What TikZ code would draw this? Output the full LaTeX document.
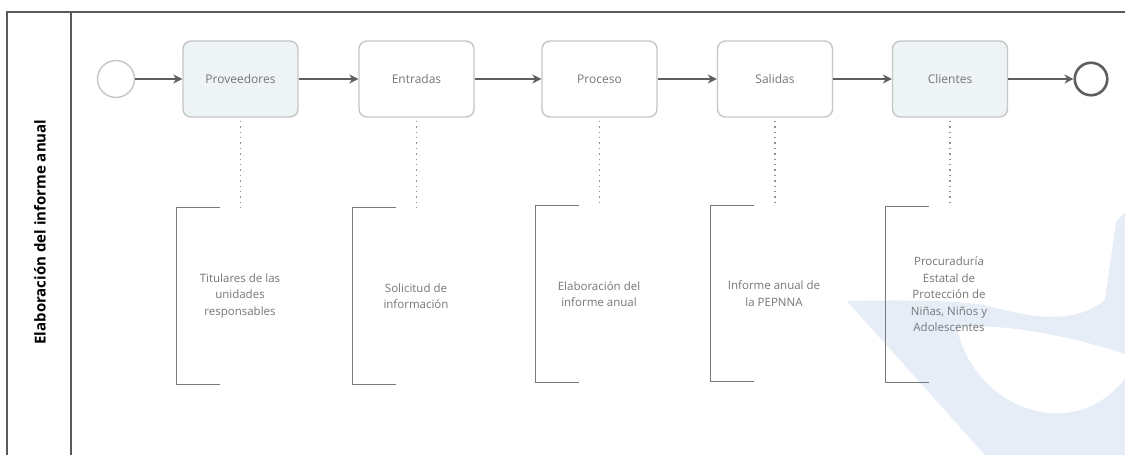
\documentclass[tikz,border=0pt]{standalone}
\usepackage{fontspec}
\setmainfont{Open Sans}
\usetikzlibrary{arrows.meta}
\definecolor{poolline}{HTML}{5A5A5A}
\definecolor{flowline}{HTML}{5E5E5E}
\definecolor{taskedge}{HTML}{C6C6C6}
\definecolor{taskfill}{HTML}{EEF3F6}
\definecolor{labelgray}{HTML}{767676}
\definecolor{bracketgray}{HTML}{7A7A7A}
\definecolor{markblue}{HTML}{E6EDF7}
\begin{document}
\begin{tikzpicture}[x=1pt,y=-1pt,
  task/.style={draw=taskedge, line width=1.4pt, rounded corners=8pt,
    minimum width=115pt, minimum height=76pt,
    font=\fontsize{12}{14}\selectfont, text=labelgray},
  shaded/.style={fill=taskfill},
  plain/.style={fill=white},
  startev/.style={circle, draw=taskedge, line width=1.4pt,
    minimum size=37pt, inner sep=0pt, fill=white},
  endev/.style={circle, draw=flowline, line width=2.6pt,
    minimum size=32.5pt, inner sep=0pt, fill=white},
  flow/.style={draw=flowline, line width=1.2pt,
    -{Stealth[length=9pt,width=9pt]}},
  assoc/.style={draw=labelgray!80, line width=1.1pt,
    dash pattern=on 1.4pt off 4pt},
  note/.style={minimum width=126pt, minimum height=176pt, align=center,
    font=\fontsize{11.5}{16.5}\selectfont, text=labelgray, inner sep=0pt},
  bracket/.style={draw=bracketgray, line width=1.3pt},
  lanetitle/.style={rotate=90, font=\bfseries\fontsize{15}{17}\selectfont, text=black},
]
\useasboundingbox (0,0) rectangle (1125,455);
\fill[white] (0,0) rectangle (1125,455);

% faint emblem in the lower right corner
\fill[markblue] (847,301) .. controls (900,300) and (950,300) .. (985,305)
  .. controls (1030,318) and (1075,325) .. (1105,300) -- (1116,222)
  -- (1125,212) -- (1125,455) -- (985,455) -- cycle;
\fill[white] (957,328) .. controls (975,410) and (1075,445) .. (1125,378)
  -- (1125,354) .. controls (1070,336) and (1000,322) .. (957,328) -- cycle;

% pool and lane
\draw[poolline, line width=1.1pt] (1125,12) -- (7,12) -- (7,455);
\draw[poolline, line width=1.1pt] (71,12) -- (71,455);
\node[lanetitle] (lane) at (40,232) {Elaboración del informe anual};

% events and tasks
\node[startev] (start) at (116,79) {};
\node[task, shaded] (t1) at (240.5,79) {Proveedores};
\node[task, plain]  (t2) at (416.5,79) {Entradas};
\node[task, plain]  (t3) at (599.5,79) {Proceso};
\node[task, plain]  (t4) at (775,79) {Salidas};
\node[task, shaded] (t5) at (950,79) {Clientes};
\node[endev] (end) at (1091,79) {};

% sequence flows
\draw[flow] (start) -- (t1);
\draw[flow] (t1) -- (t2);
\draw[flow] (t2) -- (t3);
\draw[flow] (t3) -- (t4);
\draw[flow] (t4) -- (t5);
\draw[flow] (t5) -- (end);

% text annotations
\node[note] (a1) at (240,296) {Titulares de las\\unidades\\responsables};
\node[note] (a2) at (416,296) {Solicitud de\\información};
\node[note] (a3) at (599,294) {Elaboración del\\informe anual};
\node[note] (a4) at (774,293.5) {Informe anual de\\la PEPNNA};
\node[note] (a5) at (949,294.5) {Procuraduría\\Estatal de\\Protección de\\Niñas, Niños y\\Adolescentes};

\foreach \n in {a1,a2,a3,a4,a5}
  \draw[bracket] ([xshift=43pt]\n.north west) -- (\n.north west)
    -- (\n.south west) -- ([xshift=43pt]\n.south west);

% associations
\foreach \t/\n in {t1/a1,t2/a2,t3/a3,t4/a4,t5/a5}
  \draw[assoc] ([yshift=-3pt]\t.south) -- (\t.south |- \n.north);
\end{tikzpicture}
\end{document}
